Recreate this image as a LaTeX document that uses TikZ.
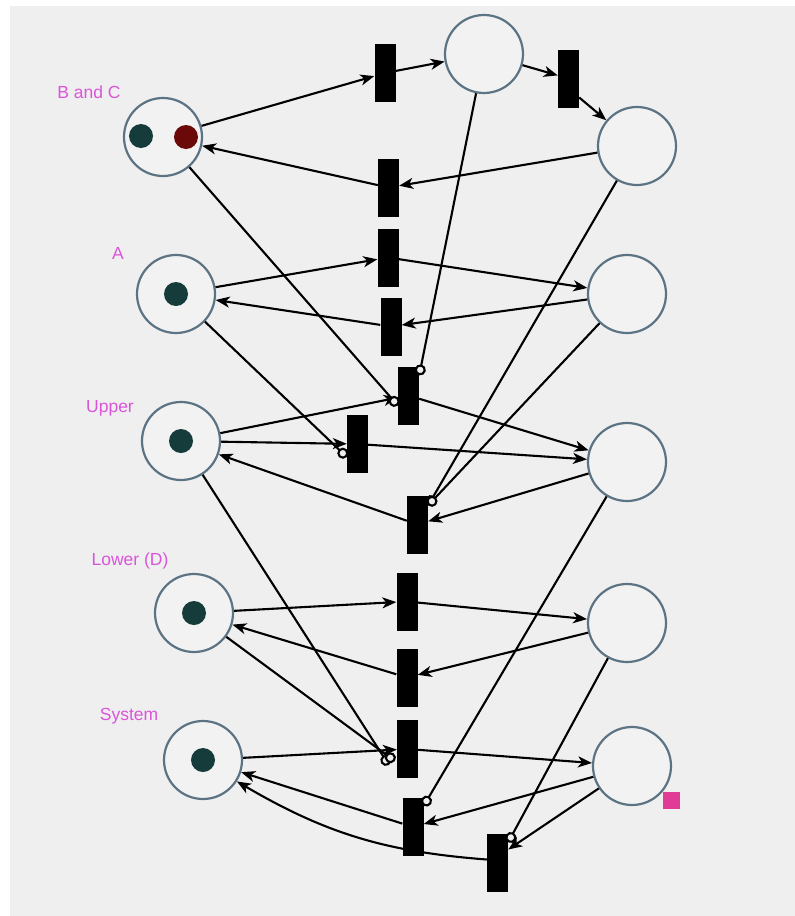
\documentclass[tikz,border=0pt]{standalone}
\usepackage{fontspec}
\setmainfont{Liberation Sans}
\usetikzlibrary{arrows.meta}
\definecolor{bgc}{HTML}{EFEFEF}
\definecolor{placefill}{HTML}{F2F2F2}
\definecolor{placeline}{HTML}{5C7384}
\definecolor{tokgreen}{HTML}{153B3B}
\definecolor{tokred}{HTML}{6B0808}
\definecolor{lblc}{HTML}{DA55DA}
\definecolor{markc}{HTML}{E03C96}
\begin{document}
\begin{tikzpicture}[x=1pt,y=-1pt,
  place/.style={circle,draw=placeline,fill=placefill,line width=2.2pt,minimum size=78pt,inner sep=0pt},
  trans/.style={rectangle,fill=black,minimum width=21pt,minimum height=58pt,inner sep=0pt},
  token/.style={circle,minimum size=24pt,inner sep=0pt},
  arc/.style={line width=2.1pt,-{Stealth[length=14pt,width=11pt,inset=4pt]}},
  inhib/.style={line width=2.1pt,-{Circle[length=11pt,width=11pt,fill=bgc]}},
  lbl/.style={text=lblc,font=\fontsize{17.5}{20}\selectfont,inner sep=0pt}]
\useasboundingbox (0,0) rectangle (795,916);
\fill[white] (0,0) rectangle (795,916);
\fill[bgc] (10,6) rectangle (795,916);

% labels
\node[lbl] (lBC) at (89,92) {B and C};
\node[lbl] (lA) at (118,253) {A};
\node[lbl] (lU) at (110,408) {Upper};
\node[lbl] (lL) at (130,561) {Lower (D)};
\node[lbl] (lS) at (129,716) {System};

% places
\node[place] (BC) at (163,137) {};
\node[place] (P1) at (484,54) {};
\node[place] (P2) at (637,146) {};
\node[place] (A)  at (176,294) {};
\node[place] (Ap) at (627,294) {};
\node[place] (U)  at (181,441) {};
\node[place] (Up) at (627,462) {};
\node[place] (L)  at (194,613) {};
\node[place] (Lp) at (627,623) {};
\node[place] (S)  at (203,760) {};
\node[place] (Sp) at (632,766) {};

% tokens
\node[token,fill=tokgreen] (kBC1) at (141,136) {};
\node[token,fill=tokred]   (kBC2) at (186,137) {};
\node[token,fill=tokgreen] (kA) at (176,294) {};
\node[token,fill=tokgreen] (kU) at (181,441) {};
\node[token,fill=tokgreen] (kL) at (194,613) {};
\node[token,fill=tokgreen] (kS) at (203,760) {};

% transitions
\node[trans] (T1)  at (385,73) {};
\node[trans] (T2)  at (568.5,78.5) {};
\node[trans] (T3)  at (388.5,187.5) {};
\node[trans] (T4)  at (388,257.5) {};
\node[trans] (T5)  at (391,326.5) {};
\node[trans] (T6)  at (408.5,395.5) {};
\node[trans] (T7)  at (357.5,444) {};
\node[trans] (T8)  at (417.5,524.5) {};
\node[trans] (T9)  at (407,601.5) {};
\node[trans] (T10) at (407,677.5) {};
\node[trans] (T11) at (407.5,749) {};
\node[trans] (T12) at (413,827) {};
\node[trans] (T13) at (497.5,862.5) {};

% marker
\node[fill=markc,minimum size=17pt,inner sep=0pt] (mk) at (671.5,800.5) {};

% B and C cycle
\draw[arc] (BC) -- (T1);
\draw[arc] (T1) -- (P1);
\draw[arc] (P1) -- (T2);
\draw[arc] ([yshift=-19pt]T2.east) -- (P2);
\draw[arc] (P2) -- (T3);
\draw[arc] (T3) -- (BC);

% A
\draw[arc] (A) -- (T4);
\draw[arc] (T4) -- (Ap);
\draw[arc] (Ap) -- (T5);
\draw[arc] (T5) -- (A);

% Upper
\draw[arc] (U) -- (T6);
\draw[arc] (T6) -- (Up);
\draw[arc] (U) -- (T7);
\draw[arc] (T7) -- (Up);
\draw[arc] (Up) -- (T8);
\draw[arc] (T8) -- (U);
\draw[inhib] (BC) -- ([yshift=-10pt]T6.west);
\draw[inhib] (P1) -- ([yshift=-9pt]T6.north east);
\draw[inhib] (A) -- ([yshift=-13pt]T7.west);
\draw[inhib] (P2) -- ([yshift=-10pt]T8.north east);
\draw[inhib] (Ap) -- ([yshift=-10pt]T8.north east);

% Lower
\draw[arc] (L) -- (T9);
\draw[arc] (T9) -- (Lp);
\draw[arc] (Lp) -- (T10);
\draw[arc] (T10) -- (L);

% System
\draw[arc] (S) -- (T11);
\draw[arc] (T11) -- (Sp);
\draw[arc] (Sp) -- (T12);
\draw[arc] (T12) -- (S);
\draw[arc] (Sp) -- ([yshift=13pt]T13.east);
\draw[arc] ([yshift=3pt]T13.west) to[bend left=13] (S);
\draw[inhib] (U) -- ([xshift=-8pt,yshift=-16pt]T11.west);
\draw[inhib] (L) -- ([xshift=-2pt,yshift=-12pt]T11.west);
\draw[inhib] (Up) -- ([yshift=-8pt]T12.north east);
\draw[inhib] (Lp) -- ([yshift=-9pt]T13.north east);
\end{tikzpicture}
\end{document}
